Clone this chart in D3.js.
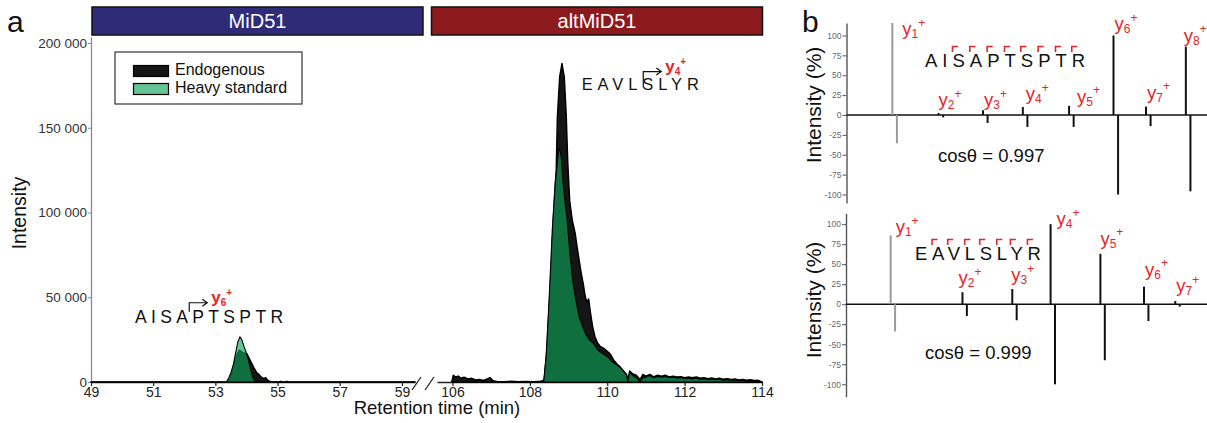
<!DOCTYPE html>
<html><head><meta charset="utf-8">
<script src="https://cdn.jsdelivr.net/npm/d3@7"></script>
<style>
html,body{margin:0;padding:0;background:#fff;}
svg{display:block;}
</style></head><body>
<svg id="chart" width="1207" height="423"></svg>
<script>
// ---------------- DATA ----------------
// Panel a: extracted ion chromatograms [retention time (min), intensity]
const endoMiD51 = [[49,0],[53.4,0],[53.48,2500],[53.56,7500],[53.63,12500],[53.7,16500],[53.77,18800],[53.84,18000],[53.9,17200],[53.97,17000],[54.02,16500],[54.1,13500],[54.17,11000],[54.25,8000],[54.33,5500],[54.4,4500],[54.47,3000],[54.55,2000],[54.62,2500],[54.7,800],[54.8,0],[55.05,0],[55.1,400],[55.15,0],[55.25,0],[55.3,400],[55.35,0],[59.42,0]];
const heavyMiD51 = [[49,0],[53.35,0],[53.42,2000],[53.5,5500],[53.58,10500],[53.65,17000],[53.72,23500],[53.79,26700],[53.85,25000],[53.92,21000],[53.98,18000],[54.04,14500],[54.1,10000],[54.16,5500],[54.22,2000],[54.3,0],[59.42,0]];
const endoAlt = [[105.98,0],[106.02,4000],[106.08,3000],[106.15,3500],[106.22,2200],[106.3,2800],[106.4,1800],[106.5,2200],[106.6,1200],[106.7,1500],[106.8,900],[106.9,1800],[106.97,2600],[107.05,700],[107.15,300],[107.3,200],[107.5,400],[107.7,200],[107.9,300],[108.1,200],[108.3,400],[108.37,1500],[108.44,19000],[108.53,58000],[108.61,97500],[108.66,118000],[108.68,124000],[108.71,156000],[108.77,180000],[108.83,188000],[108.89,180000],[108.94,158000],[108.98,130000],[109.03,107000],[109.1,95000],[109.17,88000],[109.22,80000],[109.28,71000],[109.33,64000],[109.38,58000],[109.42,52000],[109.47,47000],[109.52,49000],[109.56,42000],[109.62,33000],[109.68,27000],[109.75,23000],[109.82,21000],[109.9,20000],[109.98,18500],[110.08,16500],[110.18,12500],[110.26,10500],[110.34,8800],[110.42,6500],[110.5,4500],[110.53,600],[110.58,6500],[110.65,5000],[110.75,4000],[110.85,1500],[110.92,4500],[111.0,3500],[111.1,4500],[111.2,3000],[111.3,4000],[111.4,3500],[111.5,4000],[111.6,3000],[111.7,3500],[111.8,3000],[111.9,3200],[112.0,2500],[112.1,3000],[112.2,2500],[112.3,3000],[112.4,2200],[112.5,2600],[112.6,2000],[112.7,2400],[112.8,1800],[112.9,2200],[113.0,1600],[113.1,2000],[113.2,1500],[113.3,1800],[113.4,1200],[113.5,1500],[113.6,1000],[113.7,1300],[113.8,900],[113.9,1000],[114.0,0]];
const heavyAlt = [[108.3,0],[108.36,800],[108.42,15000],[108.5,50000],[108.58,90000],[108.64,112000],[108.67,121000],[108.7,127000],[108.74,136000],[108.77,138000],[108.81,133000],[108.86,117000],[108.92,104000],[108.96,97000],[109.02,80000],[109.07,68000],[109.12,58000],[109.2,47000],[109.28,38000],[109.38,32000],[109.45,28000],[109.52,25500],[109.58,24000],[109.64,23000],[109.72,20000],[109.8,18000],[109.9,16500],[110.03,14500],[110.12,12000],[110.22,10500],[110.34,8500],[110.42,6200],[110.5,4200],[110.53,400],[110.58,5500],[110.65,4000],[110.75,2500],[110.85,400],[110.92,2500],[111.0,2800],[111.1,3800],[111.2,2500],[111.3,3300],[111.4,2800],[111.5,3200],[111.6,2500],[111.7,2800],[111.8,2300],[111.9,2600],[112.0,2000],[112.1,2300],[112.2,1800],[112.3,2300],[112.4,1600],[112.5,2000],[112.6,1500],[112.7,1800],[112.8,1300],[112.9,1600],[113.0,1100],[113.1,1400],[113.2,1000],[113.3,1200],[113.4,800],[113.5,1000],[113.6,600],[113.7,800],[113.8,500],[113.9,500],[114.0,0]];
const yTicksA = [0, 50000, 100000, 150000, 200000];
const xTicksLeft = [49, 51, 53, 55, 57, 59];
const xTicksRight = [106, 108, 110, 112, 114];
const proteins = ["MiD51", "altMiD51"];
const seriesNames = ["Endogenous", "Heavy standard"];

// Panel b: mirrored MS/MS spectra (y ions, m/z; endogenous up, heavy standard down)
const peptideTop = "AISAPTSPTR";
const ionsTop = [1, 2, 3, 4, 5, 6, 7, 8];
const mzTop = [175.12, 276.17, 373.22, 460.25, 561.30, 658.35, 729.39, 816.42];
const endoTop = [116, 2.5, 6, 10, 11.5, 100, 10.5, 86];
const heavyTop = [35.6, 3, 10, 15, 15, 100, 14, 96];
const cosTop = "0.997";

const peptideBottom = "EAVLSLYR";
const ionsBottom = [1, 2, 3, 4, 5, 6, 7];
const mzBottom = [175.12, 338.18, 451.27, 538.30, 651.38, 750.45, 821.49];
const endoBottom = [86, 15, 19, 100, 63, 22, 4];
const heavyBottom = [34, 14.6, 20, 100, 70, 21, 3];
const cosBottom = "0.999";

const heavyShift = 10.008; // heavy Arg label
const specTicks = [-100, -75, -50, -25, 0, 25, 50, 75, 100];

// ---------------- LAYOUT / STYLE ----------------
const FONT = "'Liberation Sans', Arial, Helvetica, sans-serif";
const RED = "#e3262b";
const GREEN = "#0ca256";
const GREEN_OP = 0.64;
const nudgeTop = [[10, 12.3], [0, -7], [1, -4], [3, -7], [8, -3], [1, -5], [1, -8], [-2, -5]];
const nudgeBottom = [[5, -2], [-4, -8], [-1, -8], [6, 1], [0, -9], [1, -11], [1, -9]];

const svg = d3.select("#chart").attr("font-family", FONT);

// ================= PANEL a =================
const xL = d3.scaleLinear().domain([49, 59.42]).range([91, 415]);
const xR = d3.scaleLinear().domain([105.6, 114]).range([437, 762]);
const yA = d3.scaleLinear().domain([0, 203540]).range([382, 37]);

svg.append("text").attr("x", 7).attr("y", 31.5).attr("font-size", 30).attr("fill", "#111").text("a");

// banners
const banners = [{name: proteins[0], x0: 92, x1: 423, fill: "#2e2b78"}, {name: proteins[1], x0: 431.5, x1: 762.5, fill: "#8c1a1c"}];
banners.forEach(b => {
  svg.append("rect").attr("x", b.x0).attr("y", 7).attr("width", b.x1 - b.x0).attr("height", 28)
    .attr("fill", b.fill).attr("stroke", "#111").attr("stroke-width", 1.5);
  svg.append("text").attr("x", (b.x0 + b.x1) / 2).attr("y", 28.3).attr("text-anchor", "middle")
    .attr("font-size", 20).attr("fill", "#fff").text(b.name);
});

// y axis
const gYA = svg.append("g").attr("transform", "translate(91,0)")
  .call(d3.axisLeft(yA).tickValues(yTicksA).tickSize(3).tickPadding(1).tickSizeOuter(0)
    .tickFormat(d => d === 0 ? "0" : (d / 1000) + " 000"));
gYA.attr("font-family", FONT).attr("font-size", 13.5);
gYA.select(".domain").attr("stroke", "#8a8a8a").attr("stroke-width", 1.3);
gYA.selectAll(".tick line").attr("stroke", "#8a8a8a");
gYA.selectAll(".tick text").attr("fill", "#333");

// x axes
function xAxis(scale, ticks) {
  const g = svg.append("g").attr("transform", "translate(0,382)")
    .call(d3.axisBottom(scale).tickValues(ticks).tickSize(4).tickPadding(1.5).tickSizeOuter(0));
  g.attr("font-family", FONT).attr("font-size", 14);
  g.select(".domain").attr("stroke", "#222").attr("stroke-width", 1.6);
  g.selectAll(".tick line").attr("stroke", "#222").attr("stroke-width", 1.2);
  g.selectAll(".tick text").attr("fill", "#222");
}
xAxis(xL, xTicksLeft);
xAxis(xR, xTicksRight);
// axis break marks
[[412, 390, 421, 377], [425, 390, 434, 377]].forEach(s => {
  svg.append("line").attr("x1", s[0]).attr("y1", s[1]).attr("x2", s[2]).attr("y2", s[3])
    .attr("stroke", "#222").attr("stroke-width", 1.3);
});

// areas
function drawPeaks(scale, endo, heavy) {
  const area = d3.area().x(d => scale(d[0])).y0(yA(0)).y1(d => yA(d[1]));
  svg.append("path").datum(endo).attr("d", area).attr("fill", "#151515")
    .attr("stroke", "#000").attr("stroke-width", 1.4).attr("stroke-linejoin", "round");
  svg.append("path").datum(heavy).attr("d", area).attr("fill", GREEN).attr("fill-opacity", GREEN_OP)
    .attr("stroke", "#000").attr("stroke-width", 1.1).attr("stroke-linejoin", "round");
}
drawPeaks(xL, endoMiD51, heavyMiD51);
drawPeaks(xR, endoAlt, heavyAlt);

// axis titles
svg.append("text").attr("transform", "translate(26,213) rotate(-90)").attr("text-anchor", "middle")
  .attr("font-size", 19.5).attr("fill", "#111").text("Intensity");
svg.append("text").attr("x", 437).attr("y", 414).attr("text-anchor", "middle")
  .attr("font-size", 18.5).attr("fill", "#111").text("Retention time (min)");

// legend
svg.append("rect").attr("x", 115).attr("y", 52).attr("width", 187).attr("height", 52)
  .attr("fill", "#fff").attr("stroke", "#333").attr("stroke-width", 1.2);
seriesNames.forEach((n, i) => {
  const yy = 65.5 + i * 18;
  svg.append("rect").attr("x", 133.5).attr("y", yy).attr("width", 35).attr("height", 11)
    .attr("fill", i === 0 ? "#151515" : GREEN).attr("fill-opacity", i === 0 ? 1 : GREEN_OP)
    .attr("stroke", "#000").attr("stroke-width", 1.2);
  svg.append("text").attr("x", 175).attr("y", yy + 9.5).attr("font-size", 16).attr("fill", "#111").text(n);
});

// peptide annotations in panel a
function peptideA(seq, x0, baseline, size, spacing, cut, ion, arrowUp, arrowDown, shift) {
  const t = svg.append("text").attr("x", x0).attr("y", baseline).attr("font-size", size)
    .attr("letter-spacing", spacing).attr("fill", "#111").text(seq);
  const node = t.node();
  const cx = (node.getEndPositionOfChar(cut - 1).x + node.getStartPositionOfChar(cut).x) / 2 + shift;
  const ay = baseline - size * 0.716 - arrowUp;
  const ax1 = cx + 18;
  svg.append("path").attr("d", `M${cx},${baseline - size * 0.716 + arrowDown}V${ay}H${ax1}M${ax1 - 5},${ay - 3.5}L${ax1},${ay}L${ax1 - 5},${ay + 3.5}`)
    .attr("fill", "none").attr("stroke", "#111").attr("stroke-width", 1.2);
  const lab = svg.append("text").attr("x", ax1 + 4).attr("y", ay).attr("fill", RED)
    .attr("font-weight", "bold").attr("font-size", 17);
  lab.append("tspan").text("y");
  lab.append("tspan").attr("font-size", 10).attr("dy", 3).text(ion);
  lab.append("tspan").attr("font-size", 10).attr("dy", -10).text("+");
}
peptideA(peptideTop, 135, 323.3, 17.5, 4.35, 4, 6, 8, 1, -3);
peptideA(peptideBottom, 581.7, 90, 16.5, 4.9, 4, 4, 6.6, 9, 1);

// ================= PANEL b =================
svg.append("text").attr("x", 802).attr("y", 31.5).attr("font-size", 30).attr("fill", "#111").text("b");

function ionLabel(x, y, n) {
  const lab = svg.append("text").attr("x", x).attr("y", y).attr("fill", RED).attr("font-size", 18.5);
  lab.append("tspan").text("y");
  lab.append("tspan").attr("font-size", 12).attr("dy", 3).text(n);
  lab.append("tspan").attr("font-size", 12).attr("dy", -11.5).text("+");
}

function spectrum(cfg) {
  const x = d3.scaleLinear().domain(cfg.xDom).range([cfg.axisX, 1209]);
  const y = d3.scaleLinear().domain(cfg.yDom).range(cfg.yRange);
  const ga = svg.append("g").attr("transform", `translate(${cfg.axisX},0)`)
    .call(d3.axisLeft(y).tickValues(specTicks).tickSize(4).tickPadding(1).tickSizeOuter(0).tickFormat(d => String(d)));
  ga.attr("font-family", FONT).attr("font-size", 8.5);
  ga.select(".domain").attr("stroke", "#555").attr("stroke-width", 1.4);
  ga.selectAll(".tick line").attr("stroke", "#555");
  ga.selectAll(".tick text").attr("fill", "#6a6a6a");
  svg.append("line").attr("x1", cfg.axisX).attr("x2", 1207).attr("y1", y(0)).attr("y2", y(0))
    .attr("stroke", "#111").attr("stroke-width", 1.4);
  cfg.mz.forEach((m, i) => {
    const col = i === 0 ? "#9a9a9a" : "#111";
    svg.append("line").attr("x1", x(m)).attr("x2", x(m)).attr("y1", y(0)).attr("y2", y(Math.min(cfg.up[i], cfg.yDom[1])))
      .attr("stroke", col).attr("stroke-width", 2);
    svg.append("line").attr("x1", x(m + heavyShift)).attr("x2", x(m + heavyShift)).attr("y1", y(0)).attr("y2", y(-cfg.down[i]))
      .attr("stroke", col).attr("stroke-width", 2);
    const tipY = y(Math.min(cfg.up[i], cfg.yDom[1]));
    ionLabel(x(m) + cfg.nudge[i][0], tipY + cfg.nudge[i][1], cfg.ions[i]);
  });
  // peptide with fragmentation brackets
  const t = svg.append("text").attr("x", cfg.pepX).attr("y", cfg.pepY).attr("font-size", 18.5)
    .attr("letter-spacing", cfg.spacing).attr("fill", "#111").text(cfg.peptide);
  const node = t.node();
  const nL = cfg.peptide.length;
  for (let k = 1; k <= cfg.ions.length; k++) {
    const ci = nL - k; // cleavage before char ci
    const cx = (node.getEndPositionOfChar(ci - 1).x + node.getStartPositionOfChar(ci).x) / 2;
    const by = cfg.pepY - 20.5;
    svg.append("path").attr("d", `M${cx},${by + 5.5}V${by}H${cx + 5.5}`)
      .attr("fill", "none").attr("stroke", RED).attr("stroke-width", 1.6);
  }
  const ct = svg.append("text").attr("x", cfg.cosX).attr("y", cfg.cosY).attr("font-size", 18.5).attr("fill", "#111");
  ct.text("cosθ = " + cfg.cos);
  svg.append("text").attr("transform", `translate(821,${cfg.labelY}) rotate(-90)`).attr("text-anchor", "middle")
    .attr("font-size", 21).attr("fill", "#111").text("Intensity (%)");
}

spectrum({
  axisX: 846.5, xDom: [75, 867], yDom: [-110.7, 115.7], yRange: [203, 23],
  mz: mzTop, up: endoTop, down: heavyTop, ions: ionsTop, nudge: nudgeTop,
  peptide: peptideTop, pepX: 925, pepY: 67, spacing: 5,
  cos: cosTop, cosX: 938, cosY: 162, labelY: 105
});
spectrum({
  axisX: 846, xDom: [73.7, 898], yDom: [-115.5, 113.6], yRange: [396.7, 213.3],
  mz: mzBottom, up: endoBottom, down: heavyBottom, ions: ionsBottom, nudge: nudgeBottom,
  peptide: peptideBottom, pepX: 915, pepY: 260, spacing: 4.7,
  cos: cosBottom, cosX: 925, cosY: 359, labelY: 300
});
</script></body></html>
